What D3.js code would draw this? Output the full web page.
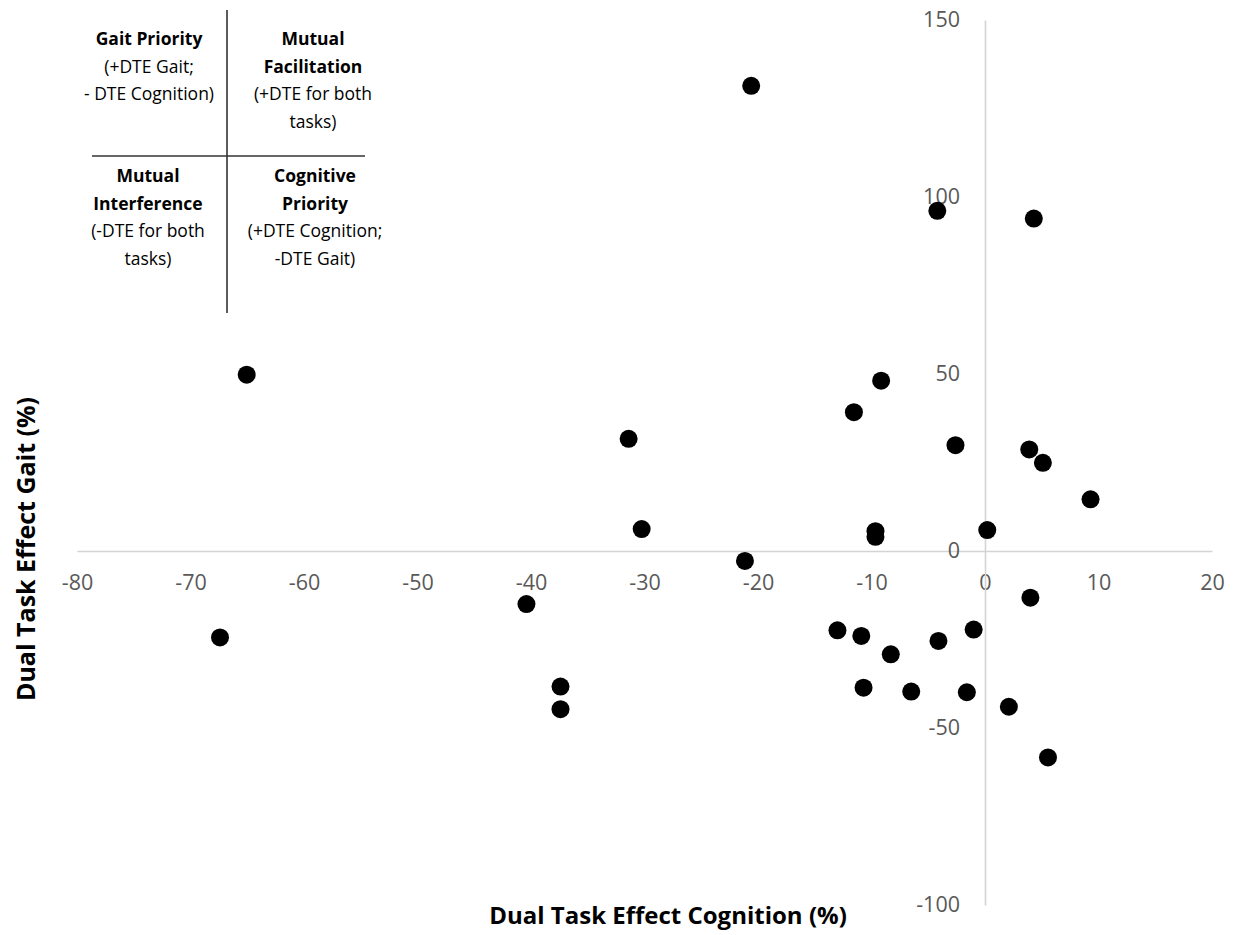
<!DOCTYPE html>
<html>
<head>
<meta charset="utf-8">
<script src="https://cdn.jsdelivr.net/npm/d3@7"></script>
<style>
  body { margin: 0; background: #fff; }
  svg { display: block; }
  .tick text { font-family: "Open Sans", sans-serif; fill: #595959; }
  .axis-label { font-family: "Open Sans", sans-serif; font-weight: bold; fill: #000; }
  .quad text { font-family: "Open Sans", sans-serif; fill: #000; }
</style>
</head>
<body>
<div id="chart"></div>
<script>
// Dual task effect values
const cognition = [-20.6, -4.2, 4.3, -65.05, -9.15, -11.55, -31.4, -2.6, 3.9, 5.1, 9.3,
  -30.25, -9.65, -9.65, 0.2, -21.15, -40.4, 4.0, -67.4, -13.0, -10.9, -1.0, -4.1,
  -8.3, -37.4, -37.4, -10.7, -6.5, -1.6, 2.1, 5.55];
const gait = [131.4, 96.1, 93.9, 49.8, 48.1, 39.2, 31.7, 29.9, 28.7, 24.9, 14.6,
  6.2, 5.6, 4.0, 5.9, -2.8, -15.0, -13.2, -24.4, -22.4, -24.0, -22.2, -25.4,
  -29.2, -38.3, -44.7, -38.6, -39.7, -39.9, -44.0, -58.3];

const xTicks = [-80, -70, -60, -50, -40, -30, -20, -10, 0, 10, 20];
const yTicks = [-100, -50, 0, 50, 100, 150];

const xTitle = "Dual Task Effect Cognition (%)";
const yTitle = "Dual Task Effect Gait (%)";

// quadrant key: first line(s) bold, rest regular
const quadrants = [
  { bold: ["Gait Priority"], normal: ["(+DTE Gait;", "- DTE Cognition)"] },
  { bold: ["Mutual", "Facilitation"], normal: ["(+DTE for both", "tasks)"] },
  { bold: ["Mutual", "Interference"], normal: ["(-DTE for both", "tasks)"] },
  { bold: ["Cognitive", "Priority"], normal: ["(+DTE Cognition;", "-DTE Gait)"] }
];

const width = 1235, height = 935;

const svg = d3.select("#chart").append("svg")
  .attr("width", width)
  .attr("height", height);

const x = d3.scaleLinear().domain([-80, 20]).range([77, 1212]);
const y = d3.scaleLinear().domain([-100, 150]).range([905, 20]);

// x axis crosses at gait = 0
const xAxis = d3.axisBottom(x)
  .tickValues(xTicks)
  .tickSize(0)
  .tickSizeOuter(0)
  .tickPadding(24)
  .tickFormat(d3.format("d"));

const yAxis = d3.axisLeft(y)
  .tickValues(yTicks)
  .tickSize(0)
  .tickSizeOuter(0)
  .tickPadding(25)
  .tickFormat(d3.format("d"));

const gx = svg.append("g")
  .attr("class", "x-axis")
  .attr("transform", `translate(0,${y(0)})`)
  .call(xAxis);

const gy = svg.append("g")
  .attr("class", "y-axis")
  .attr("transform", `translate(${x(0)},0)`)
  .call(yAxis);

[gx, gy].forEach(g => {
  g.select(".domain").attr("stroke", "#d4d4d4").attr("stroke-width", 1.6);
  g.selectAll(".tick text").style("font-size", "21.5px");
});
// d3 uses unicode minus, picture uses hyphen
svg.selectAll(".tick text").text(d => String(d));

// points
svg.append("g")
  .selectAll("circle")
  .data(cognition.map((c, i) => ({ c, g: gait[i] })))
  .join("circle")
  .attr("cx", d => x(d.c))
  .attr("cy", d => y(d.g))
  .attr("r", 9)
  .attr("fill", "#000");

// axis titles
svg.append("text")
  .attr("class", "axis-label")
  .attr("x", 668)
  .attr("y", 924)
  .attr("text-anchor", "middle")
  .style("font-size", "24px")
  .text(xTitle);

svg.append("text")
  .attr("class", "axis-label")
  .attr("transform", "translate(35,549) rotate(-90)")
  .attr("text-anchor", "middle")
  .style("font-size", "25px")
  .text(yTitle);

// quadrant key in the top left corner
const quad = svg.append("g").attr("class", "quad");
quad.append("line")
  .attr("x1", 227).attr("x2", 227).attr("y1", 10).attr("y2", 313)
  .attr("stroke", "#333").attr("stroke-width", 1.6);
quad.append("line")
  .attr("x1", 92).attr("x2", 365).attr("y1", 156).attr("y2", 156)
  .attr("stroke", "#333").attr("stroke-width", 1.6);

const qx = [149, 313, 148, 315];
const qy = [39, 39, 176, 176];
quadrants.forEach((q, i) => {
  const lines = q.bold.map(t => ({ t, b: true })).concat(q.normal.map(t => ({ t, b: false })));
  quad.selectAll(null)
    .data(lines)
    .join("text")
    .attr("x", qx[i])
    .attr("y", (d, j) => qy[i] + j * 27.5)
    .attr("dy", "0.35em")
    .attr("text-anchor", "middle")
    .style("font-size", "17.5px")
    .style("font-weight", d => d.b ? "bold" : "normal")
    .text(d => d.t);
});
</script>
</body>
</html>
